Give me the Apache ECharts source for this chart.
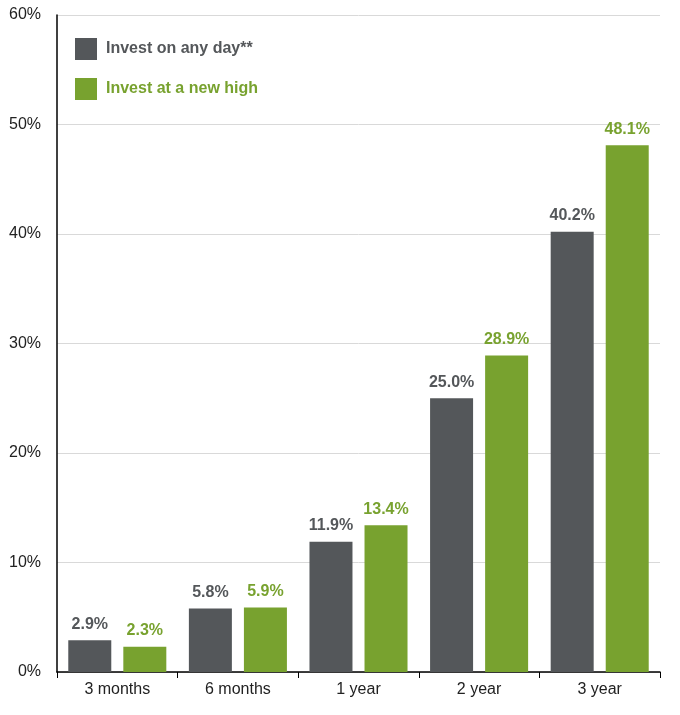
<!DOCTYPE html>
<html>
<head>
<meta charset="utf-8">
<script src="https://cdn.jsdelivr.net/npm/echarts@6/dist/echarts.min.js"></script>
<style>html,body{margin:0;padding:0;background:#fff}#chart{width:680px;height:715px}</style>
</head>
<body>
<div id="chart"></div>
<script>
const categories = ['3 months', '6 months', '1 year', '2 year', '3 year'];
const anyDay = [2.9, 5.8, 11.9, 25.0, 40.2];
const newHigh = [2.3, 5.9, 13.4, 28.9, 48.1];
const yTicks = [0, 10, 20, 30, 40, 50, 60];

const GREY = '#54575a';
const GREEN = '#78a22f';

const myEchart = echarts.init(document.getElementById('chart'));
const label = (color) => ({
  show: true, position: 'top', distance: 8,
  color: color, fontWeight: 'bold', fontSize: 16, fontFamily: 'Arial',
  formatter: (p) => p.value.toFixed(1) + '%'
});
const option = {
  animation: false,
  textStyle: { fontFamily: 'Arial' },
  legend: {
    orient: 'vertical', left: 70, top: 33, itemGap: 18,
    itemWidth: 22, itemHeight: 22, icon: 'rect',
    textStyle: { fontWeight: 'bold', fontSize: 16, padding: [0, 0, 0, 4] },
    data: [
      { name: 'Invest on any day**', textStyle: { color: GREY } },
      { name: 'Invest at a new high', textStyle: { color: GREEN } }
    ]
  },
  grid: { left: 57, right: 20, top: 15, bottom: 43 },
  xAxis: {
    type: 'category', data: categories,
    axisLine: { lineStyle: { color: '#000', width: 1.5 } },
    axisTick: { show: true, alignWithLabel: false, length: 6, lineStyle: { color: '#000' } },
    axisLabel: { color: '#222', fontSize: 16, margin: 10 }
  },
  yAxis: {
    type: 'value', min: yTicks[0], max: yTicks[yTicks.length - 1], interval: 10,
    axisLine: { show: true, lineStyle: { color: '#000', width: 1.5 } },
    axisTick: { show: false },
    axisLabel: { color: '#222', fontSize: 16, formatter: '{value}%', margin: 16 },
    splitLine: { lineStyle: { color: '#d9d9d9' } }
  },
  series: [
    { name: 'Invest on any day**', type: 'bar', data: anyDay, barWidth: 43, barGap: '28%',
      itemStyle: { color: GREY }, label: label(GREY) },
    { name: 'Invest at a new high', type: 'bar', data: newHigh, barWidth: 43,
      itemStyle: { color: GREEN }, label: label(GREEN) }
  ]
};
myEchart.setOption(option, true);
</script>
</body>
</html>
